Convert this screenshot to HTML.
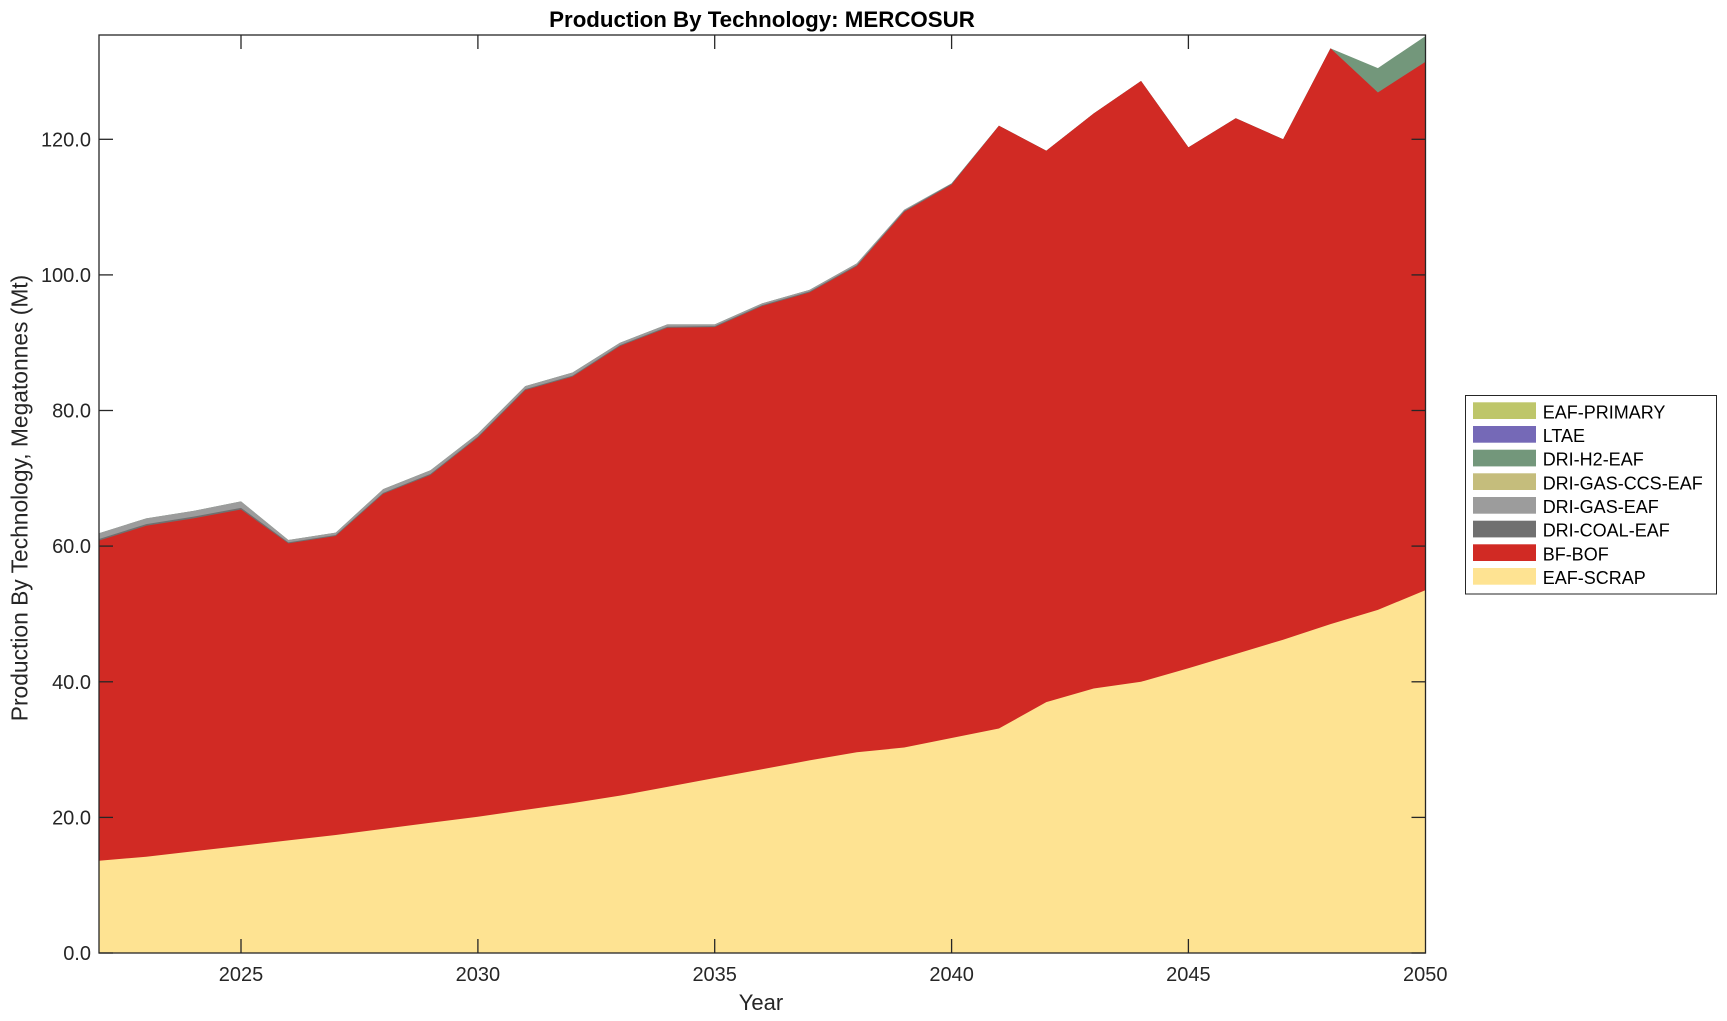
<!DOCTYPE html>
<html>
<head>
<meta charset="utf-8">
<style>
html,body{margin:0;padding:0;background:#fff;}
svg{display:block;}
text{font-family:"Liberation Sans",Arial,Helvetica,sans-serif;}
</style>
</head>
<body>
<svg width="1727" height="1021" viewBox="0 0 1727 1021" xmlns="http://www.w3.org/2000/svg">
<rect x="0" y="0" width="1727" height="1021" fill="#ffffff"/>
<defs>
<clipPath id="pa"><rect x="99" y="35" width="1326.5" height="918"/></clipPath>
</defs>
<g clip-path="url(#pa)">
<g transform="translate(98.9,953) scale(47.37,-6.781)">
<!-- DRI-H2-EAF (cumulative top) -->
<polygon fill="#73977b" points="0,61.9 1,64.1 2,65.2 3,66.6 4,60.9 5,62.0 6,68.4 7,71.2 8,76.6 9,83.6 10,85.6 11,90.0 12,92.7 13,92.7 14,95.8 15,97.8 16,101.7 17,109.6 18,113.5 19,122.0 20,118.3 21,123.8 22,128.6 23,118.8 24,123.1 25,120.0 26,133.4 27,130.5 28,135.2 28,0 0,0"/>
<!-- DRI-GAS-EAF -->
<polygon fill="#9c9c9c" points="0,61.9 1,64.1 2,65.2 3,66.6 4,60.9 5,62.0 6,68.4 7,71.2 8,76.6 9,83.6 10,85.6 11,90.0 12,92.7 13,92.7 14,95.8 15,97.8 16,101.7 17,109.6 18,113.5 19,122.0 20,118.3 21,123.8 22,128.6 23,118.8 24,123.1 25,120.0 26,133.4 27,126.9 28,131.4 28,0 0,0"/>
<!-- DRI-COAL-EAF -->
<polygon fill="#707070" points="0,61.05 1,63.25 2,64.35 3,65.65 4,60.55 5,61.65 6,67.85 7,70.65 8,76.15 9,83.15 10,85.15 11,89.65 12,92.35 13,92.45 14,95.55 15,97.55 16,101.45 17,109.45 18,113.45 19,122.0 20,118.3 21,123.8 22,128.6 23,118.8 24,123.1 25,120.0 26,133.4 27,126.9 28,131.4 28,0 0,0"/>
<!-- BF-BOF -->
<polygon fill="#d12a24" points="0,60.8 1,63.0 2,64.1 3,65.4 4,60.4 5,61.5 6,67.7 7,70.5 8,76.0 9,83.0 10,85.0 11,89.5 12,92.2 13,92.3 14,95.4 15,97.4 16,101.3 17,109.3 18,113.3 19,122.0 20,118.3 21,123.8 22,128.6 23,118.8 24,123.1 25,120.0 26,133.4 27,126.9 28,131.4 28,0 0,0"/>
<!-- EAF-SCRAP -->
<polygon fill="#fee392" points="0,13.6 1,14.2 2,15.0 3,15.8 4,16.6 5,17.4 6,18.3 7,19.2 8,20.1 9,21.1 10,22.1 11,23.2 12,24.5 13,25.8 14,27.1 15,28.4 16,29.6 17,30.3 18,31.7 19,33.1 20,37.0 21,39.0 22,40.0 23,42.0 24,44.1 25,46.2 26,48.5 27,50.6 28,53.5 28,0 0,0"/>
</g>
</g>

<!-- axes box -->
<rect x="99" y="35" width="1326.5" height="918" fill="none" stroke="#262626" stroke-width="1.3"/>

<!-- y ticks -->
<g stroke="#262626" stroke-width="1.3">
<line x1="99" y1="953" x2="113" y2="953"/><line x1="1425.5" y1="953" x2="1411.5" y2="953"/>
<line x1="99" y1="817.4" x2="113" y2="817.4"/><line x1="1425.5" y1="817.4" x2="1411.5" y2="817.4"/>
<line x1="99" y1="681.8" x2="113" y2="681.8"/><line x1="1425.5" y1="681.8" x2="1411.5" y2="681.8"/>
<line x1="99" y1="546.1" x2="113" y2="546.1"/><line x1="1425.5" y1="546.1" x2="1411.5" y2="546.1"/>
<line x1="99" y1="410.5" x2="113" y2="410.5"/><line x1="1425.5" y1="410.5" x2="1411.5" y2="410.5"/>
<line x1="99" y1="274.9" x2="113" y2="274.9"/><line x1="1425.5" y1="274.9" x2="1411.5" y2="274.9"/>
<line x1="99" y1="139.3" x2="113" y2="139.3"/><line x1="1425.5" y1="139.3" x2="1411.5" y2="139.3"/>
<!-- x ticks -->
<line x1="241" y1="953" x2="241" y2="939"/><line x1="241" y1="35" x2="241" y2="49"/>
<line x1="477.9" y1="953" x2="477.9" y2="939"/><line x1="477.9" y1="35" x2="477.9" y2="49"/>
<line x1="714.7" y1="953" x2="714.7" y2="939"/><line x1="714.7" y1="35" x2="714.7" y2="49"/>
<line x1="951.6" y1="953" x2="951.6" y2="939"/><line x1="951.6" y1="35" x2="951.6" y2="49"/>
<line x1="1188.4" y1="953" x2="1188.4" y2="939"/><line x1="1188.4" y1="35" x2="1188.4" y2="49"/>
</g>

<!-- y tick labels -->
<g font-size="20" fill="#262626" text-anchor="end">
<text x="91" y="960">0.0</text>
<text x="91" y="824.4">20.0</text>
<text x="91" y="688.8">40.0</text>
<text x="91" y="553.1">60.0</text>
<text x="91" y="417.5">80.0</text>
<text x="91" y="281.9">100.0</text>
<text x="91" y="146.3">120.0</text>
</g>

<!-- x tick labels -->
<g font-size="20" fill="#262626" text-anchor="middle">
<text x="241" y="981">2025</text>
<text x="477.9" y="981">2030</text>
<text x="714.7" y="981">2035</text>
<text x="951.6" y="981">2040</text>
<text x="1188.4" y="981">2045</text>
<text x="1425.3" y="981">2050</text>
</g>

<!-- axis labels -->
<text x="761" y="1010" font-size="22" fill="#262626" text-anchor="middle">Year</text>
<text x="0" y="0" font-size="22.8" fill="#262626" text-anchor="middle" transform="translate(27.5,498) rotate(-90)">Production By Technology, Megatonnes (Mt)</text>

<!-- title -->
<text x="762" y="27" font-size="22.3" font-weight="bold" fill="#000" text-anchor="middle">Production By Technology: MERCOSUR</text>

<!-- legend -->
<rect x="1465.5" y="395.5" width="251" height="198.5" fill="#ffffff" stroke="#262626" stroke-width="1"/>
<g>
<rect x="1473" y="402.3" width="63" height="16.7" fill="#bec66a"/>
<rect x="1473" y="426" width="63" height="16.7" fill="#7569b7"/>
<rect x="1473" y="449.7" width="63" height="16.7" fill="#73977b"/>
<rect x="1473" y="473.3" width="63" height="16.7" fill="#c5bd7c"/>
<rect x="1473" y="497" width="63" height="16.7" fill="#9c9c9c"/>
<rect x="1473" y="520.7" width="63" height="16.7" fill="#707070"/>
<rect x="1473" y="544.3" width="63" height="16.7" fill="#d12a24"/>
<rect x="1473" y="568" width="63" height="16.7" fill="#fee392"/>
</g>
<g font-size="18" fill="#000">
<text x="1542.7" y="418.3">EAF-PRIMARY</text>
<text x="1542.7" y="442">LTAE</text>
<text x="1542.7" y="465.7">DRI-H2-EAF</text>
<text x="1542.7" y="489.3">DRI-GAS-CCS-EAF</text>
<text x="1542.7" y="513">DRI-GAS-EAF</text>
<text x="1542.7" y="536.7">DRI-COAL-EAF</text>
<text x="1542.7" y="560.3">BF-BOF</text>
<text x="1542.7" y="584">EAF-SCRAP</text>
</g>
</svg>
</body>
</html>
